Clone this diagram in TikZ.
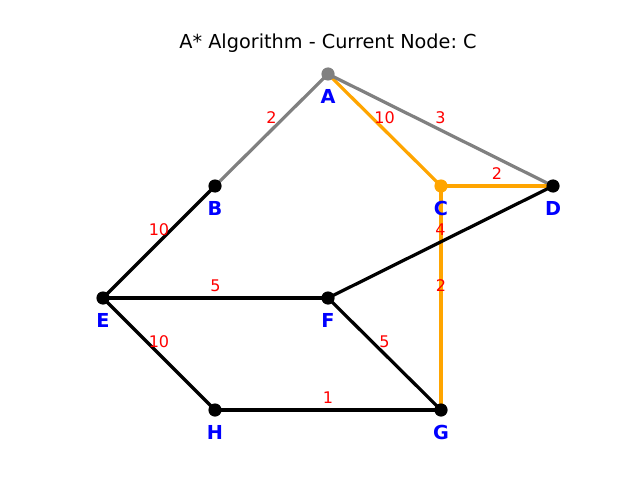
\documentclass[tikz,border=0pt]{standalone}
\usepackage{fontspec}
\setmainfont{DejaVu Sans}
\usetikzlibrary{positioning}

\definecolor{pathorange}{HTML}{FFA500}
\definecolor{seengray}{HTML}{808080}

\tikzset{
  vtx/.style={circle,fill=black,inner sep=0pt,minimum size=0.33cm},
  tag/.style={text=blue,font=\fontsize{13.7}{16}\selectfont\bfseries},
  wt/.style={midway,yshift=0.3cm,text=red,font=\fontsize{11.4}{13}\selectfont},
  road/.style={line width=2.3pt,draw=black},
}
\frenchspacing

\begin{document}
\begin{tikzpicture}
      \useasboundingbox (0,0) rectangle (16,12);

      \node (title) at (8.2,10.925) {\fontsize{13.7}{16}\selectfont A* Algorithm - Current Node: C};

      \coordinate (A) at (8.2,10.15);
      \coordinate (B) at (5.375,7.35);
      \coordinate (C) at (11.025,7.35);
      \coordinate (D) at (13.825,7.35);
      \coordinate (E) at (2.575,4.55);
      \coordinate (F) at (8.2,4.55);
      \coordinate (G) at (11.025,1.75);
      \coordinate (H) at (5.375,1.75);

      % edges
      \draw[road,draw=pathorange] (C) -- node[wt] (wcg) {2} (G);
      \draw[road,draw=seengray] (A) -- node[wt] (wab) {2} (B);
      \draw[road,draw=pathorange] (A) -- node[wt] (wac) {10} (C);
      \draw[road,draw=seengray] (A) -- node[wt] (wad) {3} (D);
      \draw[road,draw=pathorange] (C) -- node[wt] (wcd) {2} (D);
      \draw[road] (B) -- node[wt] (wbe) {10} (E);
      \draw[road] (E) -- node[wt] (wef) {5} (F);
      \draw[road] (E) -- node[wt] (weh) {10} (H);
      \draw[road] (F) -- node[wt] (wfd) {4} (D);
      \draw[road] (F) -- node[wt] (wfg) {5} (G);
      \draw[road] (H) -- node[wt] (whg) {1} (G);

      % vertices
      \node[vtx,fill=seengray] (nA) at (A) {};
      \node[vtx] (nB) at (B) {};
      \node[vtx,fill=pathorange] (nC) at (C) {};
      \node[vtx] (nD) at (D) {};
      \node[vtx] (nE) at (E) {};
      \node[vtx] (nF) at (F) {};
      \node[vtx] (nG) at (G) {};
      \node[vtx] (nH) at (H) {};

      \node[tag] (tA) at ([yshift=-0.55cm]A) {A};
      \node[tag] (tB) at ([yshift=-0.55cm]B) {B};
      \node[tag] (tC) at ([yshift=-0.55cm]C) {C};
      \node[tag] (tD) at ([yshift=-0.55cm]D) {D};
      \node[tag] (tE) at ([yshift=-0.55cm]E) {E};
      \node[tag] (tF) at ([yshift=-0.55cm]F) {F};
      \node[tag] (tG) at ([yshift=-0.55cm]G) {G};
      \node[tag] (tH) at ([yshift=-0.55cm]H) {H};
    \end{tikzpicture}
\end{document}
